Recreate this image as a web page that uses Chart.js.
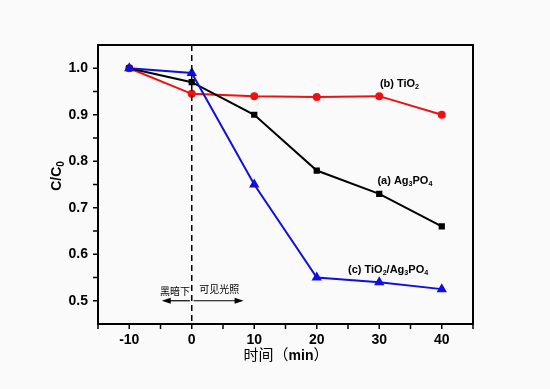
<!DOCTYPE html>
<html>
<head>
<meta charset="utf-8">
<script src="https://cdn.jsdelivr.net/npm/chart.js@4"></script>
<style>
  html, body { margin: 0; padding: 0; background: #fafafa; }
  #wrap { width: 550px; height: 389px; position: relative; }
</style>
</head>
<body>
<div id="wrap"><canvas id="chart"></canvas></div>
<script>
// time in minutes (negative = dark adsorption)
const times = [-10, 0, 10, 20, 30, 40];
const ag3po4 = [1.0, 0.97, 0.90, 0.78, 0.73, 0.66];
const tio2 = [1.0, 0.945, 0.94, 0.938, 0.94, 0.90];
const composite = [1.0, 0.99, 0.75, 0.55, 0.54, 0.525];
const xTicks = [-10, 0, 10, 20, 30, 40];
const yTicks = [0.5, 0.6, 0.7, 0.8, 0.9, 1.0];

const FONT = "'Liberation Sans', Arial, sans-serif";
const CJK = "'Noto Sans CJK SC', sans-serif";

function pts(ys) {
  return times.map((t, i) => ({ x: t, y: ys[i] }));
}

// draw text with subscripts: parts = [[text, isSub], ...]
function richText(ctx, x, y, parts, size) {
  let cx = x;
  parts.forEach(([t, sub]) => {
    ctx.font = "bold " + (sub ? size * 0.65 : size) + "px " + FONT;
    ctx.fillText(t, cx, sub ? y + size * 0.3 : y);
    cx += ctx.measureText(t).width;
  });
}

const decor = {
  id: "decor",
  afterDraw(chart) {
    const { ctx, chartArea: a, scales: { x, y } } = chart;
    ctx.save();
    ctx.strokeStyle = "#000";
    ctx.fillStyle = "#000";

    // frame
    ctx.lineWidth = 2;
    ctx.strokeRect(a.left, a.top, a.right - a.left, a.bottom - a.top);

    // ticks
    ctx.lineWidth = 1.5;
    ctx.beginPath();
    for (let v = -15; v <= 45; v += 5) {
      const px = x.getPixelForValue(v);
      ctx.moveTo(px, a.bottom);
      ctx.lineTo(px, a.bottom + 5);
    }
    for (let v = 0.5; v <= 1.0001; v += 0.05) {
      const py = y.getPixelForValue(v);
      ctx.moveTo(a.left, py);
      ctx.lineTo(a.left - 5, py);
    }
    ctx.stroke();

    // dashed divider at t = 0
    const x0 = x.getPixelForValue(0);
    ctx.setLineDash([6, 4]);
    ctx.lineWidth = 1.5;
    ctx.beginPath();
    ctx.moveTo(x0, a.top);
    ctx.lineTo(x0, a.bottom);
    ctx.stroke();
    ctx.setLineDash([]);

    // arrows
    const ya = y.getPixelForValue(0.5);
    const arrow = (from, to) => {
      const x1 = x.getPixelForValue(from), x2 = x.getPixelForValue(to);
      const d = Math.sign(x2 - x1);
      ctx.lineWidth = 1.2;
      ctx.beginPath();
      ctx.moveTo(x1, ya);
      ctx.lineTo(x2 - d * 6, ya);
      ctx.stroke();
      ctx.beginPath();
      ctx.moveTo(x2, ya);
      ctx.lineTo(x2 - d * 9, ya - 3);
      ctx.lineTo(x2 - d * 9, ya + 3);
      ctx.closePath();
      ctx.fill();
    };
    arrow(-0.3, -4.8);
    arrow(0.3, 8.3);

    ctx.font = "10px " + CJK;
    ctx.textAlign = "center";
    ctx.textBaseline = "alphabetic";
    ctx.fillText("黑暗下", x.getPixelForValue(-2.7), ya - 6);
    ctx.fillText("可见光照", x.getPixelForValue(4.4), ya - 8);

    // curve labels
    ctx.textAlign = "left";
    ctx.textBaseline = "middle";
    richText(ctx, x.getPixelForValue(30.1), y.getPixelForValue(0.966), [["(b) TiO", false], ["2", true]], 11);
    richText(ctx, x.getPixelForValue(29.7), y.getPixelForValue(0.758), [["(a) Ag", false], ["3", true], ["PO", false], ["4", true]], 11);
    richText(ctx, x.getPixelForValue(25.0), y.getPixelForValue(0.567), [["(c) TiO", false], ["2", true], ["/Ag", false], ["3", true], ["PO", false], ["4", true]], 11);

    // y title
    ctx.save();
    ctx.translate(57, 176);
    ctx.rotate(-Math.PI / 2);
    ctx.font = "bold 14px " + FONT;
    const w1 = ctx.measureText("C/C").width;
    ctx.font = "bold 10px " + FONT;
    const w2 = ctx.measureText("0").width;
    ctx.textAlign = "left";
    richText(ctx, -(w1 + w2) / 2, 0, [["C/C", false]], 14);
    ctx.font = "bold 10px " + FONT;
    ctx.fillText("0", -(w1 + w2) / 2 + w1, 4);
    ctx.restore();

    // x title
    ctx.textBaseline = "alphabetic";
    const t1 = "时间（";
    ctx.font = "bold 14px " + FONT;
    const wm = ctx.measureText("min").width;
    ctx.font = "15px " + CJK;
    const wt = ctx.measureText(t1).width, wp = ctx.measureText("）").width;
    let sx = 286 - (wt + wm + wp) / 2;
    const by = 360;
    ctx.textAlign = "left";
    ctx.fillText(t1, sx, by);
    sx += wt;
    ctx.font = "bold 14px " + FONT;
    ctx.fillText("min", sx, by);
    sx += wm;
    ctx.font = "15px " + CJK;
    ctx.fillText("）", sx, by);

    ctx.restore();
  }
};

const bg = {
  id: "bg",
  beforeDraw(chart) {
    const { ctx } = chart;
    ctx.save();
    ctx.fillStyle = "#fafafa";
    ctx.fillRect(0, 0, chart.width, chart.height);
    ctx.restore();
  }
};

new Chart(document.getElementById("chart"), {
  type: "line",
  data: {
    datasets: [
      {
        label: "(c) TiO2/Ag3PO4",
        data: pts(composite),
        borderColor: "#1010dd",
        backgroundColor: "#1010dd",
        pointStyle: "triangle",
        pointRadius: 4,
        borderWidth: 2
      },
      {
        label: "(a) Ag3PO4",
        data: pts(ag3po4),
        borderColor: "#000000",
        backgroundColor: "#000000",
        pointStyle: "rect",
        pointRadius: 3,
        borderWidth: 2
      },
      {
        label: "(b) TiO2",
        data: pts(tio2),
        borderColor: "#ee1111",
        backgroundColor: "#ee1111",
        pointStyle: "circle",
        pointRadius: 3,
        borderWidth: 2
      }
    ]
  },
  options: {
    responsive: true,
    maintainAspectRatio: false,
    animation: false,
    layout: { padding: { top: 45, right: 77, left: 0, bottom: 0 } },
    plugins: {
      legend: { display: false },
      tooltip: { enabled: false }
    },
    scales: {
      x: {
        type: "linear",
        min: -15,
        max: 45,
        afterBuildTicks: (s) => { s.ticks = xTicks.map(v => ({ value: v })); },
        afterFit: (s) => { s.height = 65; },
        grid: { display: false, drawTicks: false },
        border: { display: false },
        ticks: {
          color: "#000",
          padding: 8,
          font: { family: FONT, size: 14, weight: "bold" },
          maxRotation: 0
        }
      },
      y: {
        min: 0.45,
        max: 1.05,
        afterBuildTicks: (s) => { s.ticks = yTicks.map(v => ({ value: v })); },
        afterFit: (s) => { s.width = 98; },
        grid: { display: false, drawTicks: false },
        border: { display: false },
        ticks: {
          color: "#000",
          padding: 10,
          font: { family: FONT, size: 14, weight: "bold" },
          callback: (v) => v.toFixed(1)
        }
      }
    }
  },
  plugins: [bg, decor]
});
</script>
</body>
</html>
